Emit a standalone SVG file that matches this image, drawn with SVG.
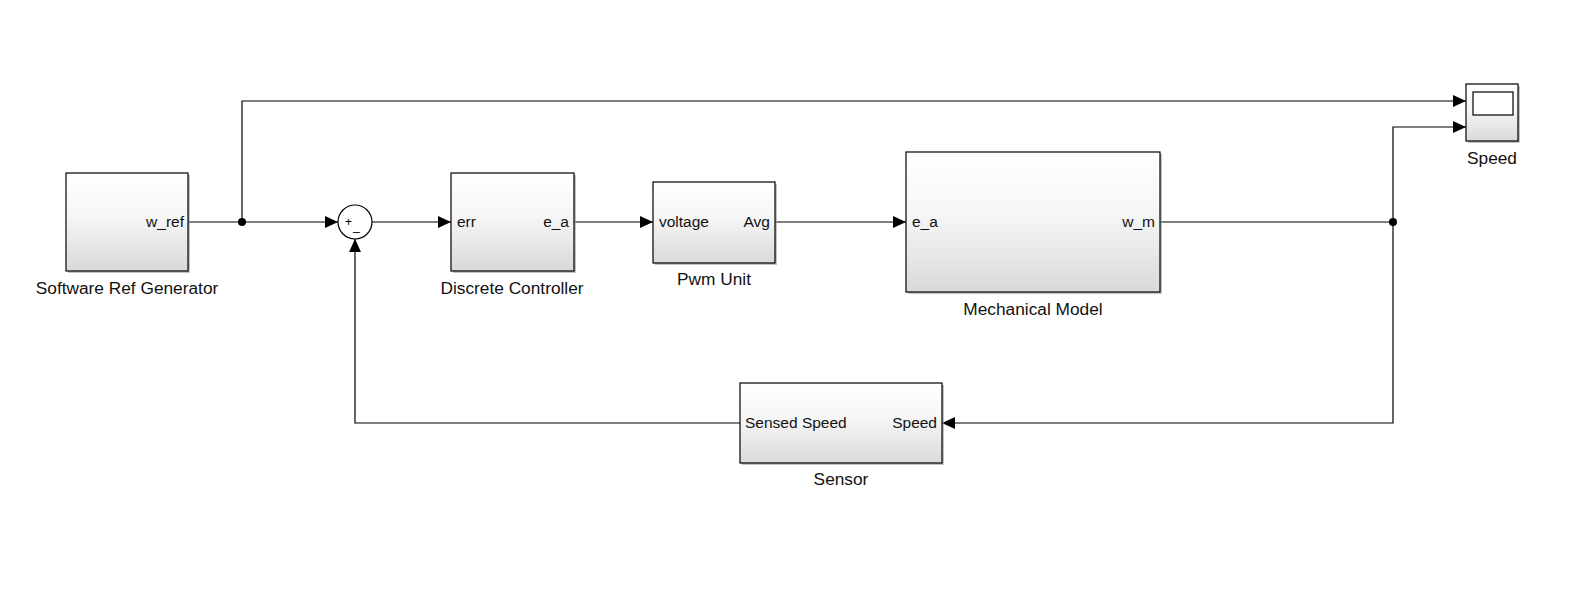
<svg xmlns="http://www.w3.org/2000/svg" width="1575" height="605" viewBox="0 0 1575 605">
<defs>
<linearGradient id="g" x1="0" y1="0" x2="0" y2="1">
<stop offset="0" stop-color="#ffffff"/>
<stop offset="0.45" stop-color="#f6f6f6"/>
<stop offset="1" stop-color="#d9d9d9"/>
</linearGradient>
<marker id="arr" markerUnits="userSpaceOnUse" markerWidth="13" markerHeight="12" refX="12" refY="5.5" viewBox="0 0 12 11" orient="auto">
<path d="M0,0 L12,5.5 L0,11 z" fill="#000"/>
</marker>
</defs>
<style>
.blk{fill:url(#g);stroke:#000;stroke-width:1.2}
.sh{fill:#9a9a9a;opacity:0.6}
.lbl{font-family:"Liberation Sans",Arial,sans-serif;font-size:17.3px;fill:#111;text-anchor:middle}
.port{font-family:"Liberation Sans",Arial,sans-serif;font-size:15.5px;fill:#111}
.r{text-anchor:end}
.ln{fill:none;stroke:#000;stroke-width:1.2}
.sum{font-family:"Liberation Sans",Arial,sans-serif;font-size:12px;fill:#000}
</style>
<rect width="1575" height="605" fill="#fff"/>
<g id="connectors">
<path class="ln" d="M188,222 H338" marker-end="url(#arr)"/>
<path class="ln" d="M242,222 V101 H1466" marker-end="url(#arr)"/>
<path class="ln" d="M372,222 H451" marker-end="url(#arr)"/>
<path class="ln" d="M574,222 H653" marker-end="url(#arr)"/>
<path class="ln" d="M775,222 H906" marker-end="url(#arr)"/>
<path class="ln" d="M1160,222 H1393"/>
<path class="ln" d="M1393,222 V127 H1466" marker-end="url(#arr)"/>
<path class="ln" d="M1393,222 V423 H942" marker-end="url(#arr)"/>
<path class="ln" d="M740,423 H355 V239" marker-end="url(#arr)"/>
<circle cx="242" cy="222" r="4" fill="#000"/>
<circle cx="1393" cy="222" r="4" fill="#000"/>
</g>
<g id="software-ref-generator">
<rect class="sh" x="68" y="175" width="122" height="98"/>
<rect class="blk" x="66" y="173" width="122" height="98"/>
<text class="port r" x="184" y="227">w_ref</text>
<text class="lbl" x="127" y="294">Software Ref Generator</text>
</g>
<g id="sum">
<circle cx="355" cy="222" r="17" fill="#fff" stroke="#000" stroke-width="1.2"/>
<text class="sum" x="345" y="226">+</text>
<text class="sum" x="353" y="230">_</text>
</g>
<g id="discrete-controller">
<rect class="sh" x="453" y="175" width="123" height="98"/>
<rect class="blk" x="451" y="173" width="123" height="98"/>
<text class="port" x="457" y="227">err</text>
<text class="port r" x="569" y="227">e_a</text>
<text class="lbl" x="512" y="294">Discrete Controller</text>
</g>
<g id="pwm-unit">
<rect class="sh" x="655" y="184" width="122" height="81"/>
<rect class="blk" x="653" y="182" width="122" height="81"/>
<text class="port" x="659" y="227">voltage</text>
<text class="port r" x="770" y="227">Avg</text>
<text class="lbl" x="714" y="285">Pwm Unit</text>
</g>
<g id="mechanical-model">
<rect class="sh" x="908" y="154" width="254" height="140"/>
<rect class="blk" x="906" y="152" width="254" height="140"/>
<text class="port" x="912" y="227">e_a</text>
<text class="port r" x="1155" y="227">w_m</text>
<text class="lbl" x="1033" y="315">Mechanical Model</text>
</g>
<g id="sensor">
<rect class="sh" x="742" y="385" width="202" height="80"/>
<rect class="blk" x="740" y="383" width="202" height="80"/>
<text class="port" x="745" y="428">Sensed Speed</text>
<text class="port r" x="937" y="428">Speed</text>
<text class="lbl" x="841" y="485">Sensor</text>
</g>
<g id="scope">
<rect class="sh" x="1468" y="86" width="52" height="57"/>
<rect class="blk" x="1466" y="84" width="52" height="57"/>
<rect x="1473" y="92" width="40" height="23" fill="#fff" stroke="#000" stroke-width="1.2"/>
<text class="lbl" x="1492" y="164">Speed</text>
</g>
</svg>
